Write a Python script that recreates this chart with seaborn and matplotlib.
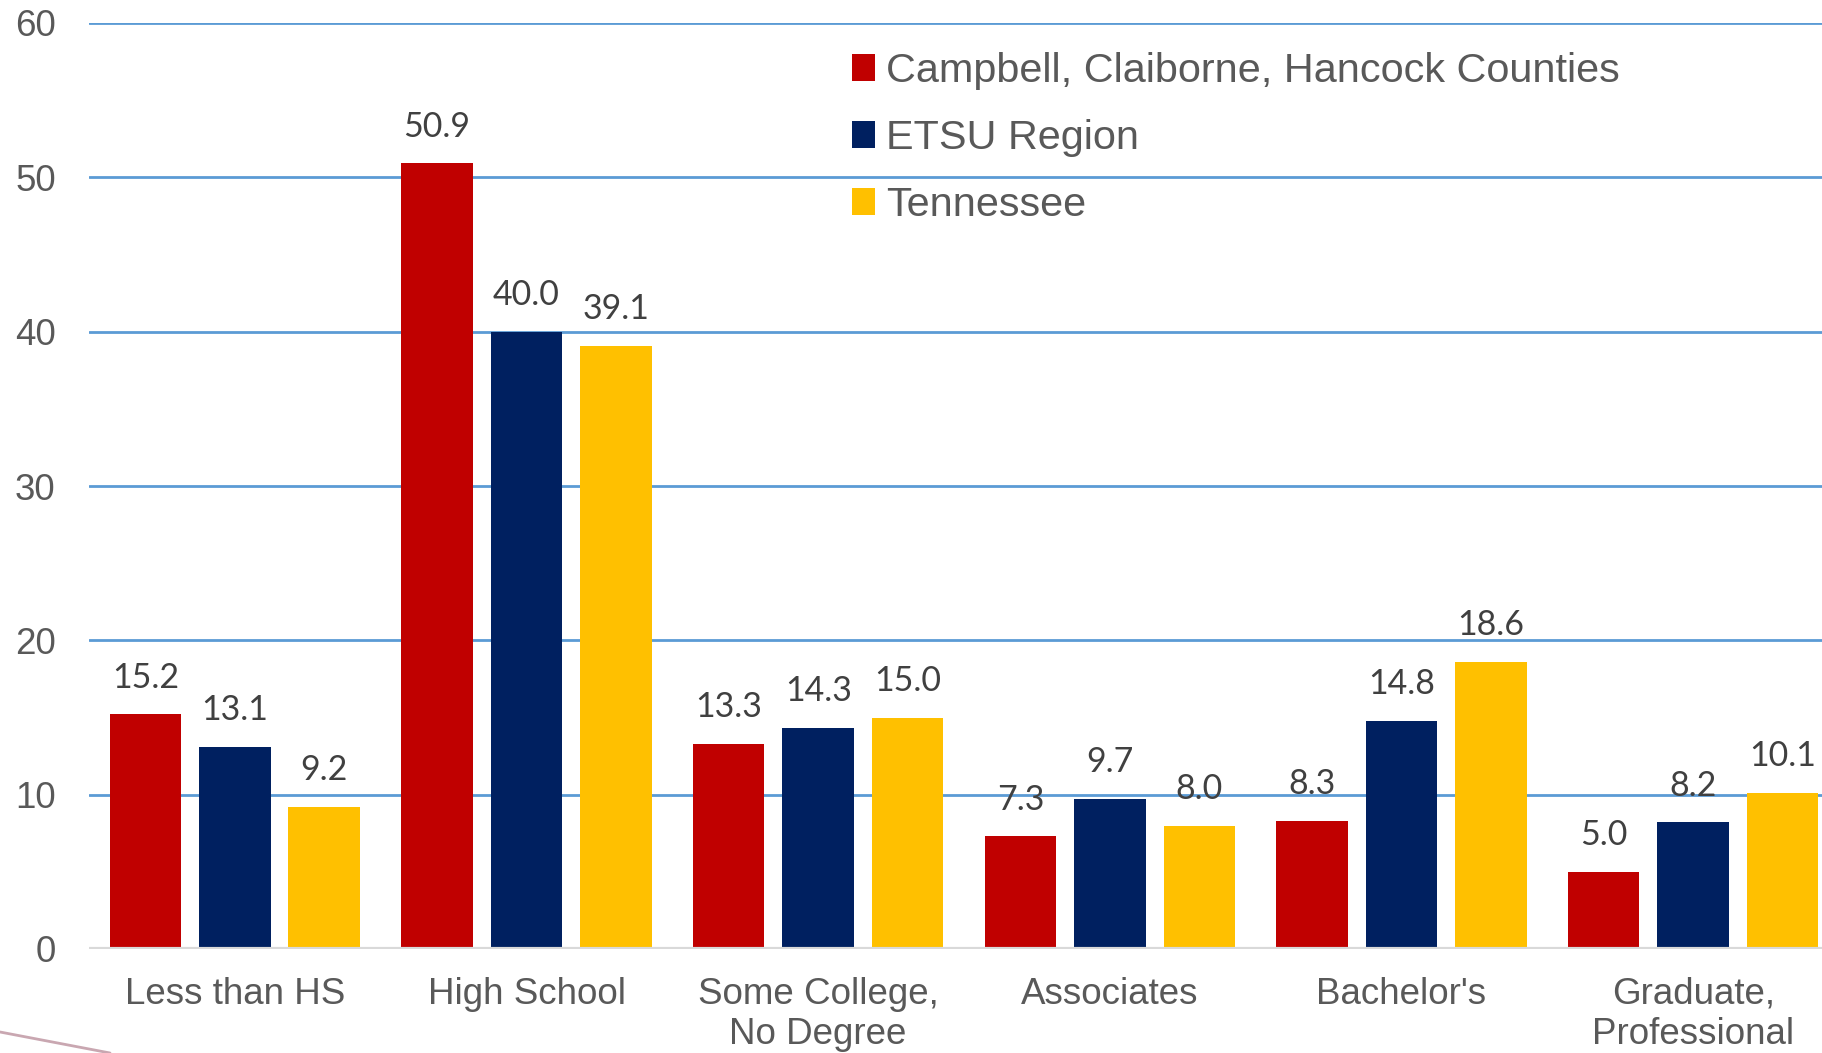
"""
Educational attainment chart: Campbell/Claiborne/Hancock vs ETSU region vs Tennessee.
"""

import matplotlib.pyplot as plt
import pandas as pd
import seaborn as sns
from matplotlib.lines import Line2D

LEVELS = [
    "Less than HS",
    "High School",
    "Some College,\nNo Degree",
    "Associates",
    "Bachelor's",
    "Graduate,\nProfessional",
]
AREAS = ["Campbell, Claiborne, Hancock Counties", "ETSU Region", "Tennessee"]

campbell = [15.2, 50.9, 13.3, 7.3, 8.3, 5.0]
etsu     = [13.1, 40.0, 14.3, 9.7, 14.8, 8.2]
tenn     = [9.2, 39.1, 15.0, 8.0, 18.6, 10.1]

Y_TICKS = [0, 10, 20, 30, 40, 50, 60]

COLORS = ["#C00000", "#002060", "#FFC000"]
TEXT_GRAY = "#595959"

# ---------------------------------------------------------------------------

df = pd.DataFrame({
    "level": LEVELS * 3,
    "area":  [a for a in AREAS for _ in LEVELS],
    "pct":   campbell + etsu + tenn,
})

sns.set_style("white")
plt.rcParams["font.family"] = ["Liberation Sans", "DejaVu Sans"]

fig = plt.figure(figsize=(18.22, 10.53), dpi=100)
ax = fig.add_axes([89 / 1822, 1 - 949 / 1053, 1750 / 1822, (949 - 23) / 1053])

sns.barplot(
    data=df,
    x="level",
    y="pct",
    hue="area",
    order=LEVELS,
    hue_order=AREAS,
    palette=COLORS,
    width=0.92,
    gap=0.2,
    saturation=1,
    errorbar=None,
    linewidth=0,
    legend=False,
    ax=ax,
    zorder=3,
)

for cont in ax.containers:
    ax.bar_label(
        cont,
        fmt="%.1f",
        padding=15,
        fontsize=24.5,
        family=["Lato", "DejaVu Sans"],
        color="#404040",
    )

ax.set_ylim(0, 60)
ax.set_xlim(-0.5, len(LEVELS) - 0.5)
ax.set_yticks(Y_TICKS)
ax.set_yticklabels([str(t) for t in Y_TICKS])
ax.set_xlabel("")
ax.set_ylabel("")

# gridlines (blue) and grey baseline
for t in Y_TICKS[1:]:
    ax.axhline(t, color="#5B9BD5", linewidth=2, zorder=1)
ax.axhline(0, color="#D9D9D9", linewidth=3, zorder=4)

for side in ["top", "right", "left", "bottom"]:
    ax.spines[side].set_visible(False)

ax.tick_params(axis="x", length=0, pad=20, labelsize=26.5, labelcolor=TEXT_GRAY)
ax.tick_params(axis="y", length=0, pad=24, labelsize=26.5, labelcolor=TEXT_GRAY)
for lab in ax.get_xticklabels():
    lab.set_linespacing(1.2)

# --- Legend ---
handles = [cont.patches[0] for cont in ax.containers]
leg = ax.legend(
    handles,
    AREAS,
    loc="upper left",
    bbox_to_anchor=(852 / 1822, 1 - 52 / 1053),
    bbox_transform=fig.transFigure,
    frameon=False,
    fontsize=29.8,
    handlelength=0.55,
    handleheight=0.62,
    handletextpad=0.27,
    labelspacing=0.70,
    borderaxespad=0,
    borderpad=0,
)
for txt in leg.get_texts():
    txt.set_color(TEXT_GRAY)

# decorative slide line at bottom-left
fig.add_artist(Line2D([0, 110 / 1822], [1 - 1032 / 1053, 0],
                      color="#C9A7B1", linewidth=2, transform=fig.transFigure))

fig.savefig("out.png", dpi=100)
plt.close(fig)
